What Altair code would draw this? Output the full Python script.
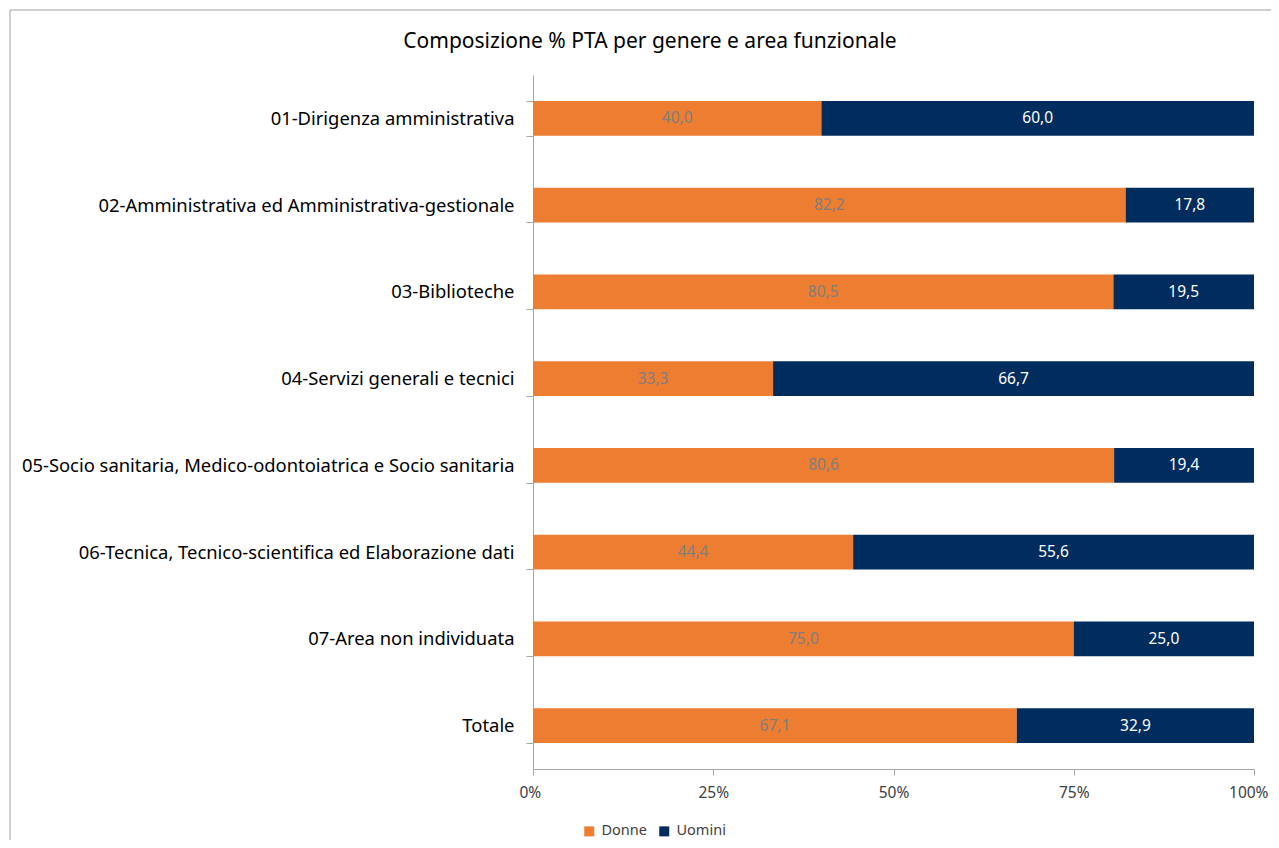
import altair as alt
import pandas as pd

categories = [
    "01-Dirigenza amministrativa",
    "02-Amministrativa ed Amministrativa-gestionale",
    "03-Biblioteche",
    "04-Servizi generali e tecnici",
    "05-Socio sanitaria, Medico-odontoiatrica e Socio sanitaria",
    "06-Tecnica, Tecnico-scientifica ed Elaborazione dati",
    "07-Area non individuata",
    "Totale",
]
donne = [40.0, 82.2, 80.5, 33.3, 80.6, 44.4, 75.0, 67.1]
uomini = [60.0, 17.8, 19.5, 66.7, 19.4, 55.6, 25.0, 32.9]
series = ["Donne", "Uomini"]
colors = ["#ED7D31", "#002D5E"]

rows = []
for c, d, u in zip(categories, donne, uomini):
    rows.append({"cat": c, "genere": "Donne", "v": d, "ord": 0})
    rows.append({"cat": c, "genere": "Uomini", "v": u, "ord": 1})
df = pd.DataFrame(rows)

FONT = "Noto Sans"
W, H = 721, 694

base = alt.Chart(df).transform_stack(
    stack="v", groupby=["cat"], as_=["x0", "x1"], sort=[alt.SortField("ord")]
).transform_calculate(
    mid="(datum.x0 + datum.x1) / 2",
    lab="replace(format(datum.v, '.1f'), '.', ',')",
)

yenc = alt.Y(
    "cat:N",
    sort=categories,
    title=None,
    scale=alt.Scale(paddingInner=0.6, paddingOuter=0.3),
    axis=alt.Axis(
        labelFont=FONT, labelFontSize=18.4, labelColor="#000000", labelPadding=12,
        domainColor="#A6A6A6", tickColor="#A6A6A6", tickSize=7, tickBand="extent",
        labelLimit=600,
    ),
)

bars = base.mark_bar().encode(
    y=yenc,
    x=alt.X(
        "x0:Q",
        scale=alt.Scale(domain=[0, 100], nice=False),
        title=None,
        axis=alt.Axis(
            values=[0, 25, 50, 75, 100],
            labelExpr="datum.value + '%'",
            labelFont=FONT, labelFontSize=15.5, labelColor="#404040", labelPadding=10,
            domainColor="#A6A6A6", tickColor="#A6A6A6", tickSize=6, grid=False,
            labelFlush=True, labelFlushOffset=14,
        ),
    ),
    x2="x1:Q",
    color=alt.Color(
        "genere:N",
        scale=alt.Scale(domain=series, range=colors),
        legend=alt.Legend(
            title=None, orient="none", direction="horizontal",
            legendX=49, legendY=749, symbolType="square", symbolSize=100,
            symbolStrokeWidth=0, labelFont=FONT, labelFontSize=14.5,
            labelColor="#404040", columnPadding=10, labelOffset=5,
        ),
    ),
    order=alt.Order("ord:Q"),
)

labels = base.mark_text(font=FONT, fontSize=15.5).encode(
    y=alt.Y("cat:N", sort=categories),
    x=alt.X("mid:Q"),
    text="lab:N",
    color=alt.Color(
        "genere:N", scale=alt.Scale(domain=series, range=["#7F7F7F", "#FFFFFF"]),
        legend=None,
    ),
)

border_left = alt.Chart(pd.DataFrame({"a": [0]})).mark_rule(
    color="#A0A0A0", strokeWidth=1
).encode(x=alt.value(-523), y=alt.value(-65), y2=alt.value(900))
border_top = alt.Chart(pd.DataFrame({"a": [0]})).mark_rule(
    color="#A0A0A0", strokeWidth=1
).encode(x=alt.value(-523), x2=alt.value(900), y=alt.value(-65))

title = alt.Chart(pd.DataFrame({"t": ["Composizione % PTA per genere e area funzionale"]})).mark_text(
    font=FONT, fontSize=21, color="#000000", align="center", baseline="middle"
).encode(x=alt.value(117), y=alt.value(-33), text="t:N")

chart = alt.layer(bars, labels, border_left, border_top, title).resolve_scale(
    color="independent"
).properties(
    width=W, height=H,
    autosize=alt.AutoSizeParams(type="none"),
    padding={"left": 525, "top": 67, "right": 17, "bottom": 71},
).configure_view(stroke=None)

chart.save("out.html", embed_options={"renderer": "svg", "actions": False})
